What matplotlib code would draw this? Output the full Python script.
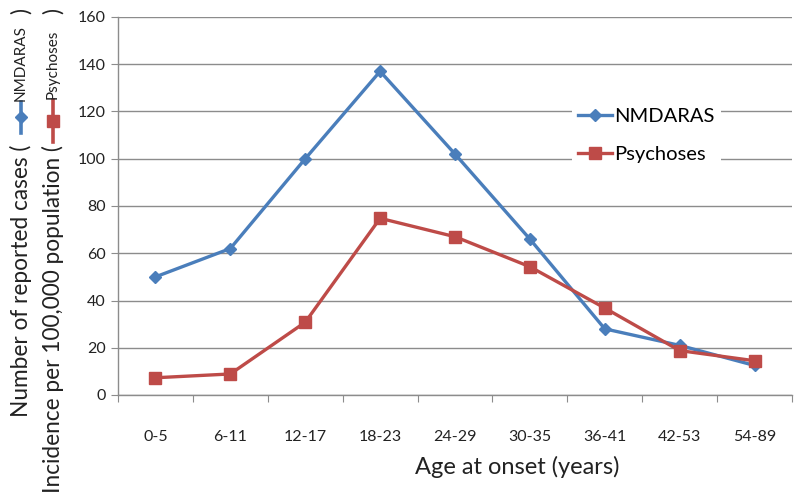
import matplotlib
matplotlib.use("Agg")
import matplotlib.pyplot as plt
from matplotlib.lines import Line2D
import numpy as np

plt.rcParams['font.family'] = ['Lato', 'DejaVu Sans']

categories = ["0-5", "6-11", "12-17", "18-23", "24-29", "30-35", "36-41", "42-53", "54-89"]
nmdaras = [50, 62, 100, 137, 102, 66, 28, 21, 12.5]
psychoses = [7.3, 8.9, 30.8, 74.8, 67, 54.3, 36.8, 18.8, 14.5]
yticks = [0, 20, 40, 60, 80, 100, 120, 140, 160]

BLUE = "#4A7EBB"
RED = "#BE4B48"
GRID = "#8C8C8C"
TXT = "#222222"

W, H = 800, 493
fig = plt.figure(figsize=(W / 100, H / 100), dpi=100)
ax = fig.add_axes([118 / W, 1 - 395 / H, (792 - 118) / W, (395 - 17) / H])

x = np.arange(len(categories))
ax.plot(x, nmdaras, color=BLUE, lw=2.4, marker="D", ms=6.5, label="NMDARAS", zorder=3)
ax.plot(x, psychoses, color=RED, lw=2.4, marker="s", ms=8.5, label="Psychoses", zorder=3)

ax.set_xlim(-0.5, len(categories) - 0.5)
ax.set_ylim(0, 160)
ax.set_yticks(yticks)
ax.set_yticklabels([str(v) for v in yticks], fontsize=11.5, color=TXT)
ax.set_xticks(np.arange(-0.5, len(categories)), minor=False)
ax.set_xticklabels([])
ax.set_xticks(x, minor=True)
ax.set_xticklabels(categories, minor=True, fontsize=11.5, color=TXT)
ax.tick_params(axis="x", which="major", length=5, color=GRID, direction="out")
ax.tick_params(axis="x", which="minor", length=0, pad=25)
ax.tick_params(axis="y", length=5, color=GRID, direction="out", pad=4)
ax.grid(axis="y", color=GRID, lw=1)
ax.set_axisbelow(True)
for s in ["top", "right"]:
    ax.spines[s].set_visible(False)
for s in ["left", "bottom"]:
    ax.spines[s].set_color(GRID)
    ax.spines[s].set_linewidth(1)

leg = ax.legend(loc="upper left", bbox_to_anchor=(572 / W, 1 - 102 / H),
                bbox_transform=fig.transFigure, frameon=True, fontsize=14.5,
                handlelength=1.7, handletextpad=0.1, labelspacing=1.05,
                borderpad=0.3, borderaxespad=0, fancybox=False)
leg.get_frame().set_edgecolor("none")
leg.get_frame().set_facecolor("white")
leg.get_frame().set_alpha(1)

fig.text(517 / W, 1 - 467 / H, "Age at onset (years)", ha="center", va="center",
         fontsize=17, color=TXT)


def vtext(xc, y_top, s, fs):
    fig.text(xc / W, 1 - y_top / H, s, rotation=90, ha="center", va="top",
             fontsize=fs, color=TXT)


def marker(xc, y0, y1, color, mk, ms):
    fig.add_artist(Line2D([xc / W, xc / W], [1 - y0 / H, 1 - y1 / H],
                          transform=fig.transFigure, color=color, lw=2.6))
    fig.add_artist(Line2D([xc / W], [1 - (y0 + y1) / 2 / H], transform=fig.transFigure,
                          color=color, marker=mk, ms=ms, lw=0))


FS = 16.3
vtext(21, 145, "Number of reported cases (", FS)
marker(21, 133, 102, BLUE, "D", 6)
vtext(21, 25, "NMDARAS", 11)
vtext(21, 8, ")", FS)

vtext(53, 145, "Incidence per 100,000 population (", FS)
marker(53, 142, 100, RED, "s", 8.5)
vtext(53, 30, "Psychoses", 11)
vtext(53, 8, ")", FS)

fig.savefig("out.png", dpi=100)
